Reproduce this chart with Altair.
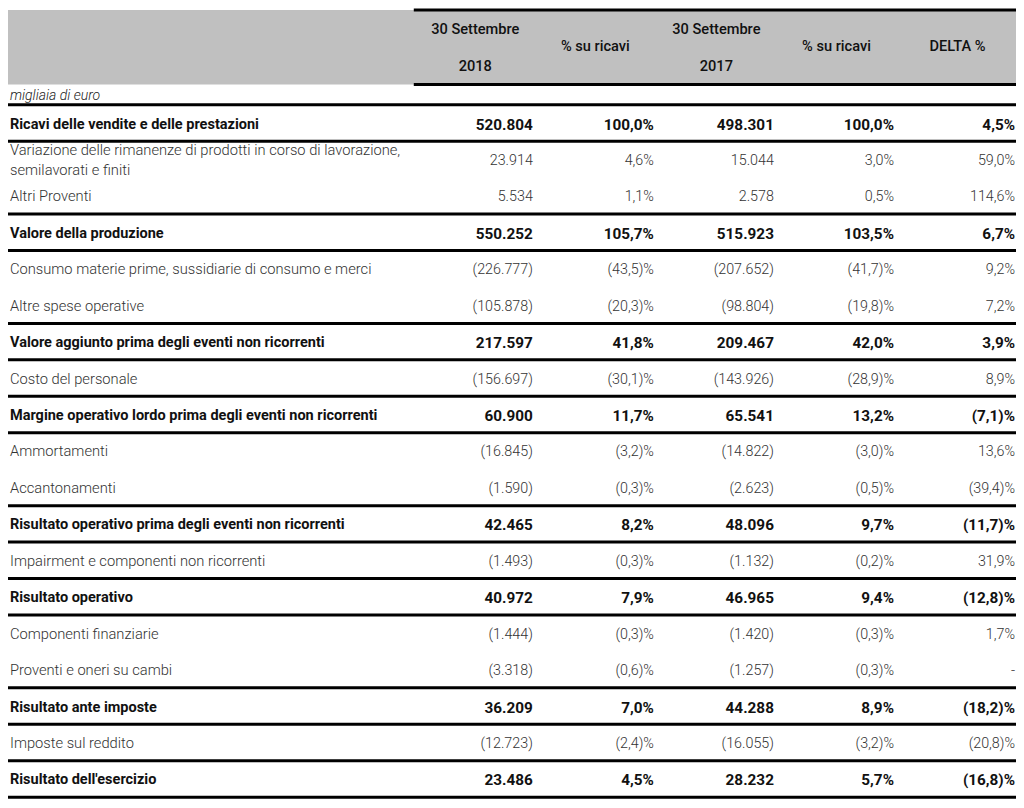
import altair as alt
import pandas as pd

# ---------------- data ----------------
labels = [
    "Ricavi delle vendite e delle prestazioni",
    "Variazione delle rimanenze di prodotti in corso di lavorazione,\nsemilavorati e finiti",
    "Altri Proventi",
    "Valore della produzione",
    "Consumo materie prime, sussidiarie di consumo e merci",
    "Altre spese operative",
    "Valore aggiunto prima degli eventi non ricorrenti",
    "Costo del personale",
    "Margine operativo lordo prima degli eventi non ricorrenti",
    "Ammortamenti",
    "Accantonamenti",
    "Risultato operativo prima degli eventi non ricorrenti",
    "Impairment e componenti non ricorrenti",
    "Risultato operativo",
    "Componenti finanziarie",
    "Proventi e oneri su cambi",
    "Risultato ante imposte",
    "Imposte sul reddito",
    "Risultato dell'esercizio",
]
bold = [True, False, False, True, False, False, True, False, True, False,
        False, True, False, True, False, False, True, False, True]
v2018 = ["520.804", "23.914", "5.534", "550.252", "(226.777)", "(105.878)", "217.597",
         "(156.697)", "60.900", "(16.845)", "(1.590)", "42.465", "(1.493)", "40.972",
         "(1.444)", "(3.318)", "36.209", "(12.723)", "23.486"]
p2018 = ["100,0%", "4,6%", "1,1%", "105,7%", "(43,5)%", "(20,3)%", "41,8%", "(30,1)%",
         "11,7%", "(3,2)%", "(0,3)%", "8,2%", "(0,3)%", "7,9%", "(0,3)%", "(0,6)%",
         "7,0%", "(2,4)%", "4,5%"]
v2017 = ["498.301", "15.044", "2.578", "515.923", "(207.652)", "(98.804)", "209.467",
         "(143.926)", "65.541", "(14.822)", "(2.623)", "48.096", "(1.132)", "46.965",
         "(1.420)", "(1.257)", "44.288", "(16.055)", "28.232"]
p2017 = ["100,0%", "3,0%", "0,5%", "103,5%", "(41,7)%", "(19,8)%", "42,0%", "(28,9)%",
         "13,2%", "(3,0)%", "(0,5)%", "9,7%", "(0,2)%", "9,4%", "(0,3)%", "(0,3)%",
         "8,9%", "(3,2)%", "5,7%"]
delta = ["4,5%", "59,0%", "114,6%", "6,7%", "9,2%", "7,2%", "3,9%", "8,9%", "(7,1)%",
         "13,6%", "(39,4)%", "(11,7)%", "31,9%", "(12,8)%", "1,7%", "-", "(18,2)%",
         "(20,8)%", "(16,8)%"]
header_line1 = ["30 Settembre", "", "30 Settembre", "", ""]
header_mid = ["", "% su ricavi", "", "% su ricavi", "DELTA %"]
header_line2 = ["2018", "", "2017", "", ""]
unit_note = "migliaia di euro"

# ---------------- layout (not data) ----------------
W, H = 1008, 792
X_DOMAIN = [6, 1022]                 # reference pixel space
Y_DOMAIN = [-3.156, 18.578]          # row units
LABEL_X = 8
VALUE_RIGHT = [535, 657, 778, 899, 1021]
HEADER_CENTER = [477, 598, 720, 841, 963]
HEADER_TOP_ROW, HEADER_BOTTOM_ROW = -3.10, -1.06
HEADER_LINE_X = [415, 1022]
ROW_HDR1, ROW_HDRMID, ROW_HDR2, ROW_NOTE = -2.58, -2.11, -1.56, -0.77
LINE_STEP = 0.535                    # second text line offset, in rows
TEXT_DY = 1.5
FONT = "Roboto"

xs = alt.Scale(domain=X_DOMAIN, zero=False, nice=False)
ys = alt.Scale(domain=Y_DOMAIN, reverse=True, zero=False, nice=False)
X = lambda f: alt.X(f, type="quantitative", scale=xs, axis=None)
Y = lambda f: alt.Y(f, type="quantitative", scale=ys, axis=None)

label_rows = []
for r, (lab, b) in enumerate(zip(labels, bold)):
    parts = lab.split("\n")
    n = len(parts)
    for i, p in enumerate(parts):
        label_rows.append({"y": r + (i - (n - 1) / 2) * LINE_STEP, "x": LABEL_X,
                           "label": p, "bold": b})
rows = pd.DataFrame(label_rows)

cols = [v2018, p2018, v2017, p2017, delta]
vals = pd.DataFrame([
    {"row": r, "x": VALUE_RIGHT[c], "text": cols[c][r], "bold": bold[r]}
    for c in range(5) for r in range(len(labels))
])

bounds = sorted({b for r, isb in enumerate(bold) if isb for b in (r - 0.5, r + 0.5)})
lines = pd.DataFrame({"y": bounds, "x0": X_DOMAIN[0], "x1": X_DOMAIN[1]})

hdr_rect = pd.DataFrame({"x0": [X_DOMAIN[0]], "x1": [X_DOMAIN[1]],
                         "y0": [HEADER_TOP_ROW], "y1": [HEADER_BOTTOM_ROW]})
hdr_lines = pd.DataFrame({"y": [HEADER_TOP_ROW, HEADER_BOTTOM_ROW],
                          "x0": HEADER_LINE_X[0], "x1": HEADER_LINE_X[1]})
hdr_text = pd.DataFrame(
    [{"x": HEADER_CENTER[i], "y": ROW_HDR1, "t": header_line1[i]} for i in range(5) if header_line1[i]]
    + [{"x": HEADER_CENTER[i], "y": ROW_HDRMID, "t": header_mid[i]} for i in range(5) if header_mid[i]]
    + [{"x": HEADER_CENTER[i], "y": ROW_HDR2, "t": header_line2[i]} for i in range(5) if header_line2[i]]
)
note = pd.DataFrame({"x": [LABEL_X], "y": [ROW_NOTE], "t": [unit_note]})

rect = alt.Chart(hdr_rect).mark_rect(color="#c0c0c0").encode(
    x=X("x0"), x2="x1", y=Y("y0"), y2="y1")
hlines = alt.Chart(hdr_lines).mark_rule(color="#000", strokeWidth=3).encode(
    x=X("x0"), x2="x1", y=Y("y"))
htext = alt.Chart(hdr_text).mark_text(font=FONT, fontSize=14.6, fontWeight=500,
                                      color="#111", align="center", baseline="middle",
                                      dy=1).encode(
    x=X("x"), y=Y("y"), text="t:N")
ntext = alt.Chart(note).mark_text(font=FONT, fontSize=14, fontStyle="italic", fontWeight=300,
                                  color="#222", align="left", baseline="middle",
                                  dy=TEXT_DY).encode(
    x=X("x"), y=Y("y"), text="t:N")
rules = alt.Chart(lines).mark_rule(color="#000", strokeWidth=3).encode(
    x=X("x0"), x2="x1", y=Y("y"))

lab_norm = alt.Chart(rows).transform_filter("!datum.bold").mark_text(
    font=FONT, fontSize=14.7, fontWeight=300, color="#333", align="left",
    baseline="middle", dy=TEXT_DY).encode(x=X("x"), y=Y("y"), text="label:N")
lab_bold = alt.Chart(rows).transform_filter("datum.bold").mark_text(
    font=FONT, fontSize=14.5, fontWeight="bold", color="#111", align="left",
    baseline="middle", dy=TEXT_DY).encode(x=X("x"), y=Y("y"), text="label:N")
val_norm = alt.Chart(vals).transform_filter("!datum.bold").mark_text(
    font=FONT, fontSize=14.3, fontWeight=300, color="#333", align="right",
    baseline="middle", dy=TEXT_DY).encode(x=X("x"), y=Y("row"), text="text:N")
val_bold = alt.Chart(vals).transform_filter("datum.bold").mark_text(
    font=FONT, fontSize=15.3, fontWeight="bold", color="#111", align="right",
    baseline="middle", dy=TEXT_DY).encode(x=X("x"), y=Y("row"), text="text:N")

chart = alt.layer(rect, hlines, htext, ntext, rules, lab_norm, lab_bold, val_norm, val_bold).properties(
    width=W, height=H, padding=0, autosize=alt.AutoSizeParams(type="none")
).configure_view(stroke=None)

chart.save("out.html", embed_options={"renderer": "svg", "actions": False})
